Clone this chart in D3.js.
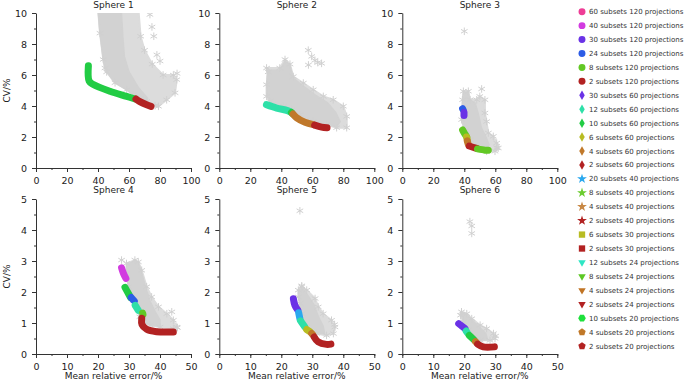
<!DOCTYPE html>
<meta charset="utf-8">
<style>
body { margin: 0; background: #fff; }
text { font-family: "DejaVu Sans", sans-serif; fill: #222; }
.axis text { font-size: 9.5px; }
.legend text { font-size: 7px; fill: #333; }
</style>
<body>
<script src="https://cdn.jsdelivr.net/npm/d3@7"></script>
<script>

var width = 685, height = 381;

// ---- data ----
var seriesNames = [
  "60 subsets 120 projections", "40 subsets 120 projections", "30 subsets 120 projections",
  "24 subsets 120 projections", "8 subsets 120 projections", "2 subsets 120 projections",
  "30 subsets 60 projections", "12 subsets 60 projections", "10 subsets 60 projections",
  "6 subsets 60 projections", "4 subsets 60 projections", "2 subsets 60 projections",
  "20 subsets 40 projections", "8 subsets 40 projections", "4 subsets 40 projections",
  "2 subsets 40 projections", "6 subsets 30 projections", "2 subsets 30 projections",
  "12 subsets 24 projections", "8 subsets 24 projections", "4 subsets 24 projections",
  "2 subsets 24 projections", "10 subsets 20 projections", "4 subsets 20 projections",
  "2 subsets 20 projections"
];

var panelTitles = ["Sphere 1", "Sphere 2", "Sphere 3", "Sphere 4", "Sphere 5", "Sphere 6"];

var xTicksTop = [0, 20, 40, 60, 80, 100];
var yTicksTop = [0, 2, 4, 6, 8, 10];
var xTicksBottom = [0, 10, 20, 30, 40, 50];
var yTicksBottom = [0, 1, 2, 3, 4, 5];

// grey clouds of all other reconstructions: full extent, and its dense core
var cloud1 = [[40,10.3],[66,10.3],[67.5,8.5],[70,7.6],[75,6.7],[82,6.0],[88.6,6.0],[90.8,5.7],
  [89.7,4.85],[84.3,4.4],[79,3.98],[76.8,4.02],[71.4,4.3],[67,4.45],[62.8,4.73],[58.5,5.05],
  [51,5.5],[45.6,6.2],[44.5,6.45],[43.4,7],[41.3,8.7]];
var core1 = [[40,10.3],[55,10.3],[56,8.5],[57,7.2],[60,6.2],[66,5.2],[72,4.5],[71.4,4.3],[67,4.45],
  [62.8,4.73],[58.5,5.05],[51,5.5],[45.6,6.2],[44.5,6.45],[43.4,7],[41.3,8.7]];
var cloud2 = [[30.5,6.45],[39,6.45],[42.4,7.0],[45.6,6.7],[47.7,5.9],[54.2,5.48],[60.6,5.05],
  [67.1,4.62],[73.5,4.4],[80,3.98],[82.2,3.33],[82.2,2.6],[75.7,2.6],[69.2,2.8],[60.6,3.0],
  [52,3.44],[46.7,3.76],[41.3,3.98],[32.7,4.3],[30.5,4.62],[30.5,5.38],[31.6,6.2]];
var core2 = [[31,6.3],[39,6.3],[42.4,6.9],[45.6,6.6],[47.7,5.8],[54,5.3],[62,4.7],[70,4.2],[75,3.6],
  [78,3.0],[75.7,2.65],[69.2,2.82],[60.6,3.0],[52,3.44],[46.7,3.76],[41.3,3.98],[32.7,4.3],
  [30.7,4.7],[30.7,5.4]];
var cloud3 = [[39.4,4.95],[42.6,4.95],[43.7,4.4],[48,4.4],[50,4.62],[53.3,4.4],[53.3,3.55],
  [55.5,2.26],[58.7,2.04],[60.9,1.61],[61.9,1.29],[59.8,1.08],[54.4,1.08],[48,1.29],[43.7,1.83],
  [40.4,2.37],[38.3,3.12],[38.9,4.4]];
var core3 = [[39.6,4.9],[42.5,4.9],[43.7,4.3],[47,4.2],[49,3.5],[51,2.6],[54,2.0],[56,1.5],[54,1.15],
  [48,1.3],[43.7,1.85],[40.4,2.4],[38.5,3.1],[39,4.4]];
var cloud4 = [[29.2,2.92],[31.9,3.03],[33,2.97],[34.1,2.7],[35.7,2.17],[37.3,1.84],[39.5,1.52],
  [42.2,1.3],[44.3,1.09],[45.4,0.87],[44.3,0.82],[40,0.87],[36.8,0.93],[34.6,1.03],[33.5,1.2],
  [31.4,1.73],[29.8,2.17],[29.2,2.6]];
var core4 = [[29.3,2.9],[31.9,3.0],[33,2.95],[34,2.65],[35.5,2.1],[36.8,1.7],[38.5,1.35],[40,1.1],
  [40,0.88],[36.8,0.94],[34.6,1.04],[33.5,1.2],[31.4,1.73],[29.8,2.17],[29.3,2.6]];
var cloud5 = [[25.5,2.06],[26.6,2.17],[28.2,2.06],[30.9,1.79],[31.9,1.52],[33.5,1.3],[36.2,1.09],
  [37.3,0.87],[36.8,0.66],[34.6,0.6],[31.4,0.66],[28.2,0.87],[26.6,1.3],[26,1.63],[25.5,1.84]];
var core5 = [[25.6,2.02],[27,2.1],[28.5,1.9],[30.5,1.6],[32,1.2],[33.5,0.9],[34,0.65],[31.4,0.67],
  [28.2,0.88],[26.6,1.3],[26,1.63]];
var cloud6 = [[19.1,1.36],[20.8,1.3],[22.4,1.14],[25.1,0.93],[27.2,0.82],[29.4,0.66],[29.9,0.5],
  [28.3,0.44],[25.1,0.44],[22.9,0.55],[21.3,0.77],[19.7,1.04],[18.8,1.25]];
var core6 = [[19.3,1.32],[20.8,1.27],[22.4,1.1],[25,0.85],[27,0.65],[27.5,0.46],[25.1,0.45],
  [22.9,0.56],[21.3,0.78],[19.7,1.05],[19,1.25]];

// isolated grey markers outside the clouds
var stray1 = [[73.5,9.9],[74.8,9.1],[76,8.5],[78,7.3],[80,6.9],[91,6.1]];
var stray2 = [[57.4,7.6],[59.6,7.2],[61.7,6.95],[63.5,6.8],[66,6.75],[57.5,6.65]];
var stray3 = [[40,8.82],[51.2,5.1],[54.4,3.0],[61,1.3]];
var stray4 = [[27.6,3.03],[43.8,1.36],[45.6,0.85]];
var stray5 = [[26,4.62],[26.6,2.2],[37.2,0.95]];
var stray6 = [[21.8,4.27],[22.4,4.13],[22.4,3.89],[30.1,0.58]];

// coloured optimal fronts: series index + path through the markers
var bands1 = [
  {s: 8, pts: [[33.8,6.6],[34.3,5.6],[37,5.38],[47.7,4.95],[58.5,4.62],[63.9,4.45]]},
  {s: 5, pts: [[64.5,4.45],[67,4.28],[71.4,4.08],[74.2,3.98]]}
];
var bands2 = [
  {s: 7, pts: [[30.4,4.09],[37,3.87],[44,3.7],[46.5,3.58]]},
  {s: 8, pts: [[46.5,3.58],[47.2,3.5]]},
  {s: 10, pts: [[47.5,3.48],[50,3.23],[55.3,2.95],[60.6,2.8]]},
  {s: 11, pts: [[61.5,2.77],[66,2.64],[69.5,2.6]]}
];
var bands3 = [
  {s: 3, pts: [[38.9,3.82],[39.3,3.75]]},
  {s: 2, pts: [[39.8,3.58],[39.8,3.38]]},
  {s: 4, pts: [[38.9,2.45],[40.3,2.2],[41.5,2.02]]},
  {s: 9, pts: [[41.5,2.0],[41.9,1.85]]},
  {s: 10, pts: [[41.9,1.75],[42.6,1.52]]},
  {s: 5, pts: [[43.2,1.42],[46.9,1.3],[48,1.27]]},
  {s: 4, pts: [[48.5,1.23],[53.3,1.15],[55.5,1.14]]}
];
var bands4 = [
  {s: 1, pts: [[27.6,2.78],[28.2,2.6],[29,2.44]]},
  {s: 8, pts: [[28.7,2.15],[29.8,1.95],[30.5,1.82]]},
  {s: 3, pts: [[30.7,1.82],[31.7,1.71]]},
  {s: 7, pts: [[32,1.57],[33,1.41]]},
  {s: 4, pts: [[34.4,1.32],[34.5,1.28]]},
  {s: 5, pts: [[34.1,1.15],[34.2,0.95],[35.7,0.8],[38.9,0.72],[44.3,0.71]]}
];
var bands5 = [
  {s: 6, pts: [[23.9,1.78],[24.4,1.57],[25.3,1.42]]},
  {s: 12, pts: [[25.6,1.33],[26,1.14]]},
  {s: 7, pts: [[26.2,1.07],[27.6,0.87]]},
  {s: 16, pts: [[28.2,0.79],[29.2,0.72]]},
  {s: 10, pts: [[29.8,0.66],[30.1,0.63]]},
  {s: 11, pts: [[30.6,0.55],[31.9,0.39],[34.6,0.31],[36,0.32]]}
];
var bands6 = [
  {s: 6, pts: [[18.2,0.98],[20.2,0.82]]},
  {s: 7, pts: [[20.6,0.74],[21,0.68]]},
  {s: 8, pts: [[21.6,0.6],[23.1,0.46]]},
  {s: 10, pts: [[23.6,0.4],[23.9,0.37]]},
  {s: 5, pts: [[24.3,0.32],[26.1,0.23],[29.7,0.23]]}
];

// ---- styles ----
var colors = ["#ee3d96","#d23be0","#6a32e6","#2c5ce6","#62c824","#b22222",
  "#6a32e6","#2ee0a8","#22cc44","#b8bc22","#c0782a","#b22222",
  "#2aa8ee","#6ccc30","#c88844","#b22222","#b8bc22","#b22222",
  "#2ee6c4","#5cc824","#c07424","#b22222","#1ee03c","#c07828","#b22222"];

function polygon(n, rot) {
  return {draw: function(ctx, size) {
    var r = Math.sqrt(size / (n * 0.5 * Math.sin(2 * Math.PI / n)));
    for (var i = 0; i < n; i++) {
      var a = rot + i * 2 * Math.PI / n;
      if (i === 0) ctx.moveTo(r * Math.sin(a), -r * Math.cos(a));
      else ctx.lineTo(r * Math.sin(a), -r * Math.cos(a));
    }
    ctx.closePath();
  }};
}
var triDown = polygon(3, Math.PI);
var symbolOf = function(i) {
  if (i < 6) return [d3.symbolCircle, 38];
  if (i < 12) return [d3.symbolDiamond, 26];
  if (i < 16) return [d3.symbolStar, 30];
  if (i < 18) return [d3.symbolSquare, 40];
  if (i < 22) return [triDown, 24];
  if (i === 22) return [polygon(6, Math.PI / 6), 38];
  return [polygon(5, 0), 36];
};

var panels = [
  {title: panelTitles[0], x0: 36,  y0: 13,  xt: xTicksTop, yt: yTicksTop, cloud: cloud1, core: core1, stray: stray1, bands: bands1},
  {title: panelTitles[1], x0: 219.3, y0: 13, xt: xTicksTop, yt: yTicksTop, cloud: cloud2, core: core2, stray: stray2, bands: bands2},
  {title: panelTitles[2], x0: 402.3, y0: 13, xt: xTicksTop, yt: yTicksTop, cloud: cloud3, core: core3, stray: stray3, bands: bands3},
  {title: panelTitles[3], x0: 36,  y0: 199, xt: xTicksBottom, yt: yTicksBottom, cloud: cloud4, core: core4, stray: stray4, bands: bands4},
  {title: panelTitles[4], x0: 219.3, y0: 199, xt: xTicksBottom, yt: yTicksBottom, cloud: cloud5, core: core5, stray: stray5, bands: bands5},
  {title: panelTitles[5], x0: 402.3, y0: 199, xt: xTicksBottom, yt: yTicksBottom, cloud: cloud6, core: core6, stray: stray6, bands: bands6}
];
var pw = 155, ph = 155;

var svg = d3.select("body").append("svg")
    .attr("width", width)
    .attr("height", height);

panels.forEach(function(p, k) {
  var xMax = d3.max(p.xt), yMax = d3.max(p.yt);
  var xScale = d3.scaleLinear().domain([0, xMax]).range([0, pw]);
  var yScale = d3.scaleLinear().domain([0, yMax]).range([ph, 0]);
  var g = svg.append("g").attr("transform", `translate(${p.x0},${p.y0})`);

  g.append("clipPath").attr("id", "clip" + k)
    .append("rect").attr("width", pw + 2).attr("height", ph);
  var plot = g.append("g").attr("clip-path", `url(#clip${k})`);

  var area = d3.line().x(d => xScale(d[0])).y(d => yScale(d[1])).curve(d3.curveLinearClosed);

  plot.append("path")
      .attr("d", area(p.cloud))
      .attr("fill", "#dcdcdc")
      .attr("stroke", "#dcdcdc")
      .attr("stroke-width", 2)
      .attr("stroke-linejoin", "round");
  plot.append("path")
      .attr("d", area(p.core))
      .attr("fill", "#d2d2d2")
      .attr("stroke", "#d2d2d2")
      .attr("stroke-width", 1.5)
      .attr("stroke-linejoin", "round");

  var ast = d3.symbol().type(d3.symbolAsterisk).size(40);
  plot.selectAll("path.stray")
    .data(p.stray.concat(p.cloud))
    .enter().append("path")
      .attr("class", "stray")
      .attr("transform", d => `translate(${xScale(d[0])},${yScale(d[1])})`)
      .attr("d", ast)
      .attr("fill", "none")
      .attr("stroke", "#d0d0d0")
      .attr("stroke-width", 1);

  var bandLine = d3.line().x(d => xScale(d[0])).y(d => yScale(d[1])).curve(d3.curveCatmullRom);
  plot.selectAll("path.band")
    .data(p.bands)
    .enter().append("path")
      .attr("class", "band")
      .attr("d", d => bandLine(d.pts))
      .attr("fill", "none")
      .attr("stroke", d => colors[d.s])
      .attr("stroke-width", 7)
      .attr("stroke-linecap", "round")
      .attr("stroke-linejoin", "round");

  // axes: major + minor ticks
  var minorX = d3.range(0, xMax + 0.001, p.xt[1] / 2);
  var minorY = d3.range(0, yMax + 0.001, p.yt[1] / 2);

  g.append("g").attr("transform", `translate(0,${ph})`)
    .call(d3.axisBottom(xScale).tickValues(minorX).tickSize(2).tickFormat(""))
    .call(a => a.select(".domain").remove())
    .attr("color", "#333");
  g.append("g").attr("class", "axis").attr("transform", `translate(0,${ph})`)
    .call(d3.axisBottom(xScale).tickValues(p.xt).tickFormat(d3.format("d"))
      .tickSize(4).tickSizeOuter(0).tickPadding(5.5))
    .attr("color", "#333");
  g.append("g")
    .call(d3.axisLeft(yScale).tickValues(minorY).tickSize(2).tickFormat(""))
    .call(a => a.select(".domain").remove())
    .attr("color", "#333");
  g.append("g").attr("class", "axis")
    .call(d3.axisLeft(yScale).tickValues(p.yt).tickFormat(d3.format("d"))
      .tickSize(4).tickSizeOuter(0).tickPadding(5))
    .attr("color", "#333");
  g.selectAll(".axis text").attr("fill", "#222");

  g.append("text")
      .attr("x", pw / 2)
      .attr("y", k < 3 ? -5 : -6)
      .attr("text-anchor", "middle")
      .style("font-size", "9px")
      .text(p.title);

  if (k % 3 === 0) {
    g.append("text")
        .attr("transform", `translate(${-p.x0 + 10},${ph / 2}) rotate(-90)`)
        .attr("text-anchor", "middle")
        .style("font-size", "9px")
        .text("CV/%");
  }
  if (k >= 3) {
    g.append("text")
        .attr("x", pw / 2)
        .attr("y", ph + 25)
        .attr("text-anchor", "middle")
        .style("font-size", "9px")
        .text("Mean relative error/%");
  }
});

// legend
var legend = svg.append("g").attr("class", "legend")
    .attr("transform", "translate(582,11.7)");
var items = legend.selectAll("g")
  .data(seriesNames)
  .enter().append("g")
    .attr("transform", (d, i) => `translate(0,${i * 13.93})`);
items.append("path")
    .attr("d", (d, i) => d3.symbol().type(symbolOf(i)[0]).size(symbolOf(i)[1])())
    .attr("fill", (d, i) => colors[i]);
items.append("text")
    .attr("x", 7)
    .attr("y", 2.5)
    .text(d => d);

</script>
